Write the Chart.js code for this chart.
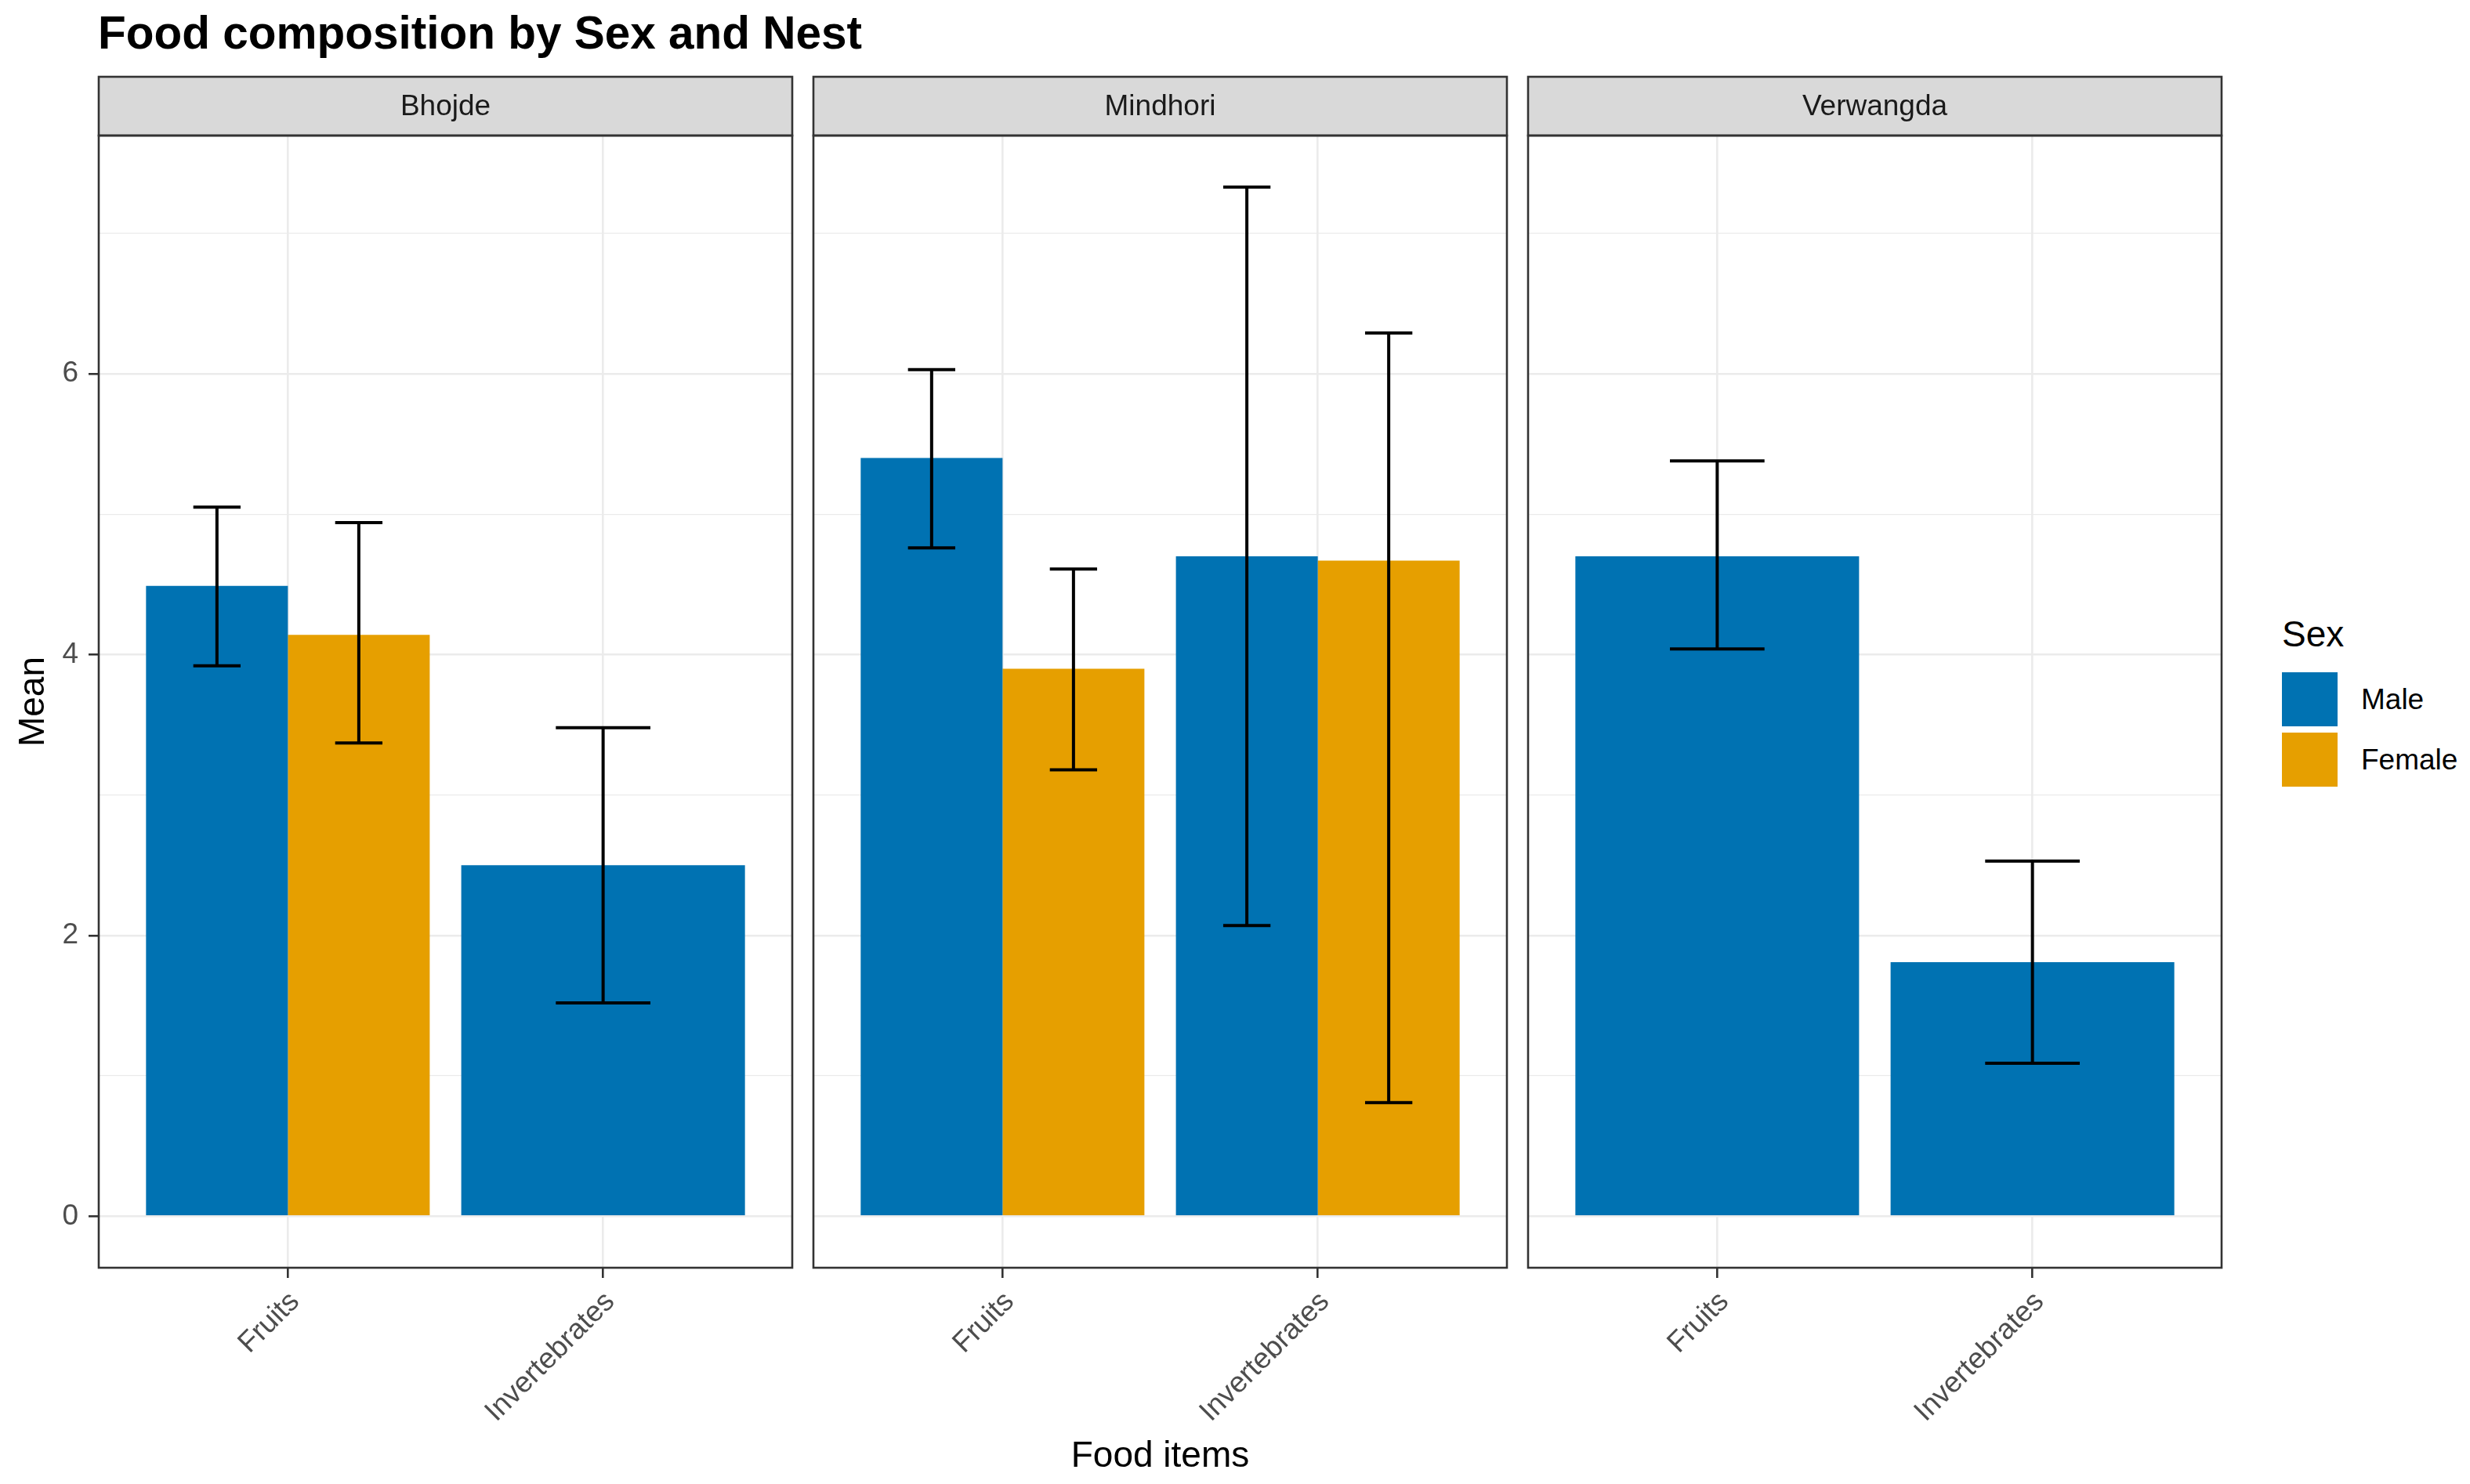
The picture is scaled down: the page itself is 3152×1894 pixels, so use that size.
<!DOCTYPE html>
<html>
<head>
<meta charset="utf-8">
<title>Food composition by Sex and Nest</title>
<script src="https://cdn.jsdelivr.net/npm/chart.js@4.4.1/dist/chart.umd.min.js"></script>
<style>
  body { margin: 0; background: #ffffff; }
  #page { position: relative; width: 3152px; height: 1894px; overflow: hidden; background: #ffffff;
          font-family: "Liberation Sans", Arial, sans-serif; }
  #page canvas { position: absolute; }
  #title { position: absolute; left: 125px; top: 13px; font-size: 58.5px; line-height: 58px; font-weight: bold; color: #000; white-space: nowrap; }
  #legend-title { position: absolute; left: 2912px; top: 786px; font-size: 46px; line-height: 46px; color: #000; }
  .key { position: absolute; left: 2912px; width: 71px; height: 69px; }
  .key-label { position: absolute; left: 3013px; height: 69px; display: flex; align-items: center; font-size: 37px; color: #000; white-space: nowrap; }
</style>
</head>
<body>
<div id="page">
  <div id="title">Food composition by Sex and Nest</div>
  <div id="legend-title">Sex</div>
</div>
<script>
var nests = ['Bhojde', 'Mindhori', 'Verwangda'];
var foodItems = ['Fruits', 'Invertebrates'];
var sexes = ['Male', 'Female'];
var sexColors = ['#0072B2', '#E69F00'];

// one row per nest, values for [Fruits, Invertebrates]
var maleMean  = [[4.49, 2.50], [5.40, 4.70], [4.70, 1.81]];
var maleLow   = [[3.92, 1.52], [4.76, 2.07], [4.04, 1.09]];
var maleHigh  = [[5.05, 3.48], [6.03, 7.33], [5.38, 2.53]];
var femaleMean = [[4.14, null], [3.90, 4.67], [null, null]];
var femaleLow  = [[3.37, null], [3.18, 0.81], [null, null]];
var femaleHigh = [[4.94, null], [4.61, 6.29], [null, null]];

var yTickLabels = [0, 2, 4, 6];
var yGridValues = [0, 1, 2, 3, 4, 5, 6, 7];

Chart.defaults.font.family = '"Liberation Sans", Arial, sans-serif';

var page = document.getElementById('page');
var panelLeft = [126, 1038, 1950];
var panelWidth = 885;
var canvasTop = 90;
var canvasHeight = 1804;

// ggplot style 5% expansion around 0..max of the error bars
var topValue = Math.max.apply(null, [].concat.apply([], maleHigh.concat(femaleHigh)).filter(function(v) { return v != null; }));
var yMin = -0.05 * topValue;
var yMax = 1.05 * topValue;

var errorBars = {
  id: 'errorBars',
  afterDatasetsDraw: function(chart) {
    var ctx = chart.ctx;
    var yScale = chart.scales.y;
    ctx.save();
    ctx.strokeStyle = '#000000';
    ctx.lineWidth = 4;
    chart.data.datasets.forEach(function(ds, i) {
      var meta = chart.getDatasetMeta(i);
      meta.data.forEach(function(bar, j) {
        if (ds.data[j].y == null || ds.low[j] == null) return;
        var p = bar.getProps(['x', 'width'], true);
        var yLo = yScale.getPixelForValue(ds.low[j]);
        var yHi = yScale.getPixelForValue(ds.high[j]);
        var half = p.width / 6;
        ctx.beginPath();
        ctx.moveTo(p.x, yLo);
        ctx.lineTo(p.x, yHi);
        ctx.moveTo(p.x - half, yHi);
        ctx.lineTo(p.x + half, yHi);
        ctx.moveTo(p.x - half, yLo);
        ctx.lineTo(p.x + half, yLo);
        ctx.stroke();
      });
    });
    ctx.restore();
  }
};

var facetFrame = {
  id: 'facetFrame',
  afterDraw: function(chart, args, opts) {
    var a = chart.chartArea;
    var ctx = chart.ctx;
    var stripH = 75;
    ctx.save();
    ctx.fillStyle = '#D9D9D9';
    ctx.fillRect(a.left, a.top - stripH, a.right - a.left, stripH);
    ctx.strokeStyle = '#333333';
    ctx.lineWidth = 2.6;
    ctx.strokeRect(a.left, a.top - stripH, a.right - a.left, stripH);
    ctx.strokeRect(a.left, a.top, a.right - a.left, a.bottom - a.top);
    ctx.fillStyle = '#1A1A1A';
    ctx.font = '37px "Liberation Sans", Arial, sans-serif';
    ctx.textAlign = 'center';
    ctx.textBaseline = 'middle';
    ctx.fillText(opts.label, (a.left + a.right) / 2, a.top - stripH / 2 + 1);
    ctx.restore();
  }
};

function makeChart(n) {
  var left = n == 0 ? 0 : panelLeft[n] - 4;
  var width = panelLeft[n] + panelWidth + 4 - left;
  var canvas = document.createElement('canvas');
  canvas.width = width;
  canvas.height = canvasHeight;
  canvas.style.left = left + 'px';
  canvas.style.top = canvasTop + 'px';
  canvas.style.width = width + 'px';
  canvas.style.height = canvasHeight + 'px';
  page.appendChild(canvas);

  var means = [maleMean[n], femaleMean[n]];
  var lows = [maleLow[n], femaleLow[n]];
  var highs = [maleHigh[n], femaleHigh[n]];

  return new Chart(canvas, {
    type: 'bar',
    data: {
      datasets: sexes.map(function(sex, s) {
        return {
          label: sex,
          data: foodItems.map(function(f, j) { return {x: j + 1, y: means[s][j]}; }),
          low: lows[s],
          high: highs[s],
          backgroundColor: sexColors[s],
          borderWidth: 0,
          barPercentage: 1,
          categoryPercentage: 0.9,
          skipNull: true
        };
      })
    },
    options: {
      responsive: false,
      animation: false,
      devicePixelRatio: 1,
      layout: { padding: { left: n == 0 ? 0 : 4, right: 4, top: 83, bottom: 0 } },
      plugins: {
        legend: { display: false },
        tooltip: { enabled: false },
        facetFrame: { label: nests[n] }
      },
      scales: {
        x: {
          type: 'linear',
          min: 0.4,
          max: 2.6,
          offset: false,
          afterBuildTicks: function(scale) {
            scale.ticks = foodItems.map(function(f, j) { return {value: j + 1}; });
          },
          afterFit: function(scale) { scale.height = 276; },
          ticks: {
            autoSkip: false,
            minRotation: 45,
            maxRotation: 45,
            padding: 9,
            labelOffset: 9,
            color: '#4D4D4D',
            font: { size: 37 },
            callback: function(value, index) { return foodItems[index]; }
          },
          grid: {
            offset: false,
            color: '#EBEBEB',
            lineWidth: 2.6,
            tickColor: '#333333',
            tickLength: 13,
            tickWidth: 2.6
          },
          border: { display: false },
          title: {
            display: n == 1,
            text: 'Food items',
            color: '#000000',
            font: { size: 46 },
            padding: { top: 0, bottom: 7 }
          }
        },
        y: {
          min: yMin,
          max: yMax,
          afterBuildTicks: function(scale) {
            scale.ticks = yGridValues.map(function(v) { return {value: v}; });
          },
          afterFit: function(scale) { scale.width = n == 0 ? 126 : 0; },
          ticks: {
            display: n == 0,
            autoSkip: false,
            padding: 13,
            color: '#4D4D4D',
            font: { size: 37 },
            callback: function(value) { return yTickLabels.indexOf(value) >= 0 ? String(value) : ''; }
          },
          grid: {
            color: '#EBEBEB',
            lineWidth: function(ctx) { return yTickLabels.indexOf(ctx.tick.value) >= 0 ? 2.6 : 1.3; },
            drawTicks: n == 0,
            tickLength: 13,
            tickWidth: 2.6,
            tickColor: function(ctx) { return yTickLabels.indexOf(ctx.tick.value) >= 0 ? '#333333' : 'rgba(0,0,0,0)'; }
          },
          border: { display: false },
          title: {
            display: n == 0,
            text: 'Mean',
            color: '#000000',
            font: { size: 46 },
            padding: { top: 16, bottom: 0 }
          }
        }
      }
    },
    plugins: [errorBars, facetFrame]
  });
}

var charts = nests.map(function(nest, n) { return makeChart(n); });

// legend
sexes.forEach(function(sex, s) {
  var top = 858 + s * 77;
  var key = document.createElement('div');
  key.className = 'key';
  key.style.top = top + 'px';
  key.style.background = sexColors[s];
  page.appendChild(key);
  var label = document.createElement('div');
  label.className = 'key-label';
  label.style.top = top + 'px';
  label.textContent = sex;
  page.appendChild(label);
});
</script>
</body>
</html>
